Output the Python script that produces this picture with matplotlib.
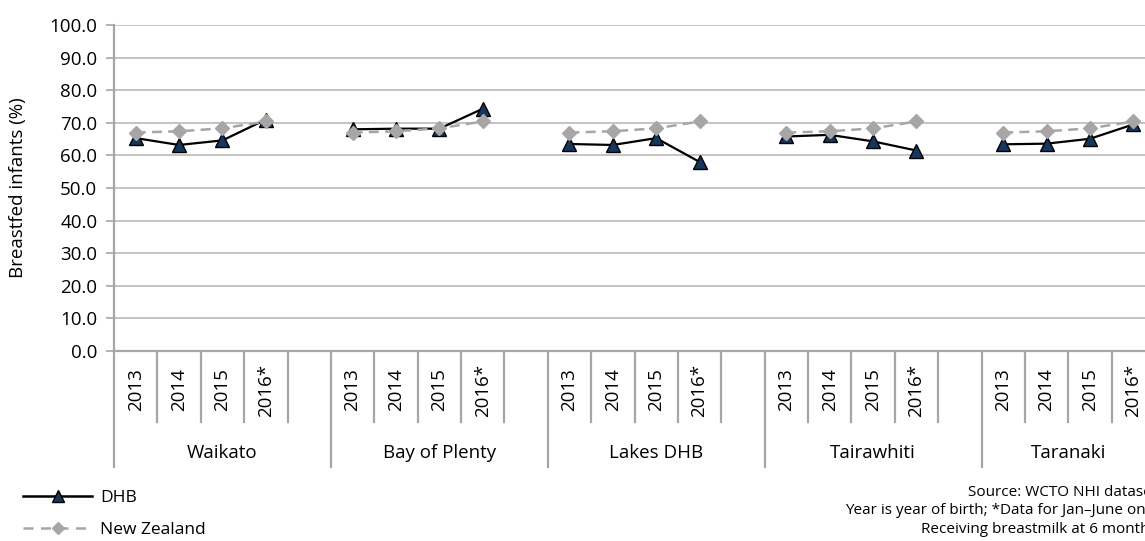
import matplotlib
matplotlib.use("Agg")
import matplotlib.pyplot as plt
import matplotlib.transforms as mtrans
from matplotlib.lines import Line2D

plt.rcParams['font.family'] = ['Open Sans', 'DejaVu Sans']

# === Data ===
regions = ["Waikato", "Bay of Plenty", "Lakes DHB", "Tairawhiti", "Taranaki"]
years = ["2013", "2014", "2015", "2016*"]
dhb_values = [
    [65.3, 63.2, 64.6, 71.0],   # Waikato
    [68.0, 68.2, 68.2, 74.3],   # Bay of Plenty
    [63.5, 63.2, 65.3, 58.0],   # Lakes DHB
    [65.8, 66.3, 64.3, 61.5],   # Tairawhiti
    [63.4, 63.6, 65.1, 69.5],   # Taranaki
]
nz_values = [67.0, 67.4, 68.3, 70.4]

slots_per_group = len(years) + 1   # one blank slot between groups
n_slots = len(regions) * slots_per_group - 1

fig = plt.figure(figsize=(11.45, 5.41), dpi=100)
ax = fig.add_axes([114 / 1145, 1 - 351 / 541, 1041 / 1145, 326 / 541])

grid_col = '#bfbfbf'
axis_col = '#a6a6a6'

# === Series ===
for i, region in enumerate(regions):
    xs = [i * slots_per_group + j + 0.5 for j in range(len(years))]
    ax.plot(xs, dhb_values[i], color='black', lw=1.6, marker='^', markersize=10,
            markerfacecolor='#17365d', markeredgecolor='black', markeredgewidth=1.0,
            zorder=3, clip_on=False)
    ax.plot(xs, nz_values, color='#a6a6a6', lw=1.8, ls=(0, (4, 2.5)), marker='D',
            markersize=7, markerfacecolor='#a6a6a6', markeredgecolor='#a6a6a6',
            zorder=4, clip_on=False)

# === Axes styling ===
ax.set_xlim(0, n_slots)
ax.set_ylim(0, 100)
ax.set_yticks(range(0, 101, 10))
ax.set_yticklabels([f"{v:.1f}" for v in range(0, 101, 10)], fontsize=13.5)
ax.tick_params(axis='y', length=6, width=1.2, color=axis_col, pad=6)
ax.set_xticks([])
ax.grid(axis='y', color=grid_col, lw=1.3)
ax.set_axisbelow(True)
for s in ['top', 'right']:
    ax.spines[s].set_visible(False)
ax.spines['left'].set_color(axis_col)
ax.spines['left'].set_linewidth(1.6)
ax.spines['bottom'].set_color(axis_col)
ax.spines['bottom'].set_linewidth(1.6)
ax.set_ylabel("Breastfed infants (%)", fontsize=13.5, labelpad=16)

# === Two-level category axis ===
trans = mtrans.blended_transform_factory(ax.transData, ax.transAxes)
short_bottom = (351 - 422) / 326
long_bottom = (351 - 467) / 326
year_y = (351 - 390) / 326
group_y = (351 - 453) / 326

for i, region in enumerate(regions):
    start = i * slots_per_group
    ax.plot([start, start], [0, long_bottom], color=axis_col, lw=1.6,
            transform=trans, clip_on=False)
    for j, yr in enumerate(years):
        ax.text(start + j + 0.5, year_y, yr, rotation=90, ha='center', va='center',
                fontsize=13.5, transform=trans)
        ax.plot([start + j + 1, start + j + 1], [0, short_bottom], color=axis_col,
                lw=1.6, transform=trans, clip_on=False)
    ax.text(start + len(years) / 2 + (0.5 if i < len(regions) - 1 else 0), group_y,
            region, ha='center', va='center', fontsize=13.5, transform=trans)

# === Legend ===
handles = [
    Line2D([], [], color='black', lw=1.8, marker='^', markersize=8,
           markerfacecolor='#17365d', markeredgecolor='black'),
    Line2D([], [], color='#a6a6a6', lw=1.8, ls=(0, (4, 3)), marker='D',
           markersize=6, markerfacecolor='#a6a6a6', markeredgecolor='#a6a6a6'),
]
fig.legend(handles, ["DHB", "New Zealand"], loc='upper left',
           bbox_to_anchor=(23 / 1145, 1 - 490 / 541), frameon=False,
           fontsize=12.5, handlelength=4.0, handletextpad=0.45, labelspacing=0.9,
           borderpad=0, borderaxespad=0)

# === Notes ===
fig.text(1157 / 1145, 1 - 485 / 541,
         "Source: WCTO NHI dataset\nYear is year of birth; *Data for Jan–June only\n"
         "Receiving breastmilk at 6 months",
         ha='right', va='top', fontsize=11.0, multialignment='right', linespacing=1.3)

fig.savefig("out.png", dpi=100)
